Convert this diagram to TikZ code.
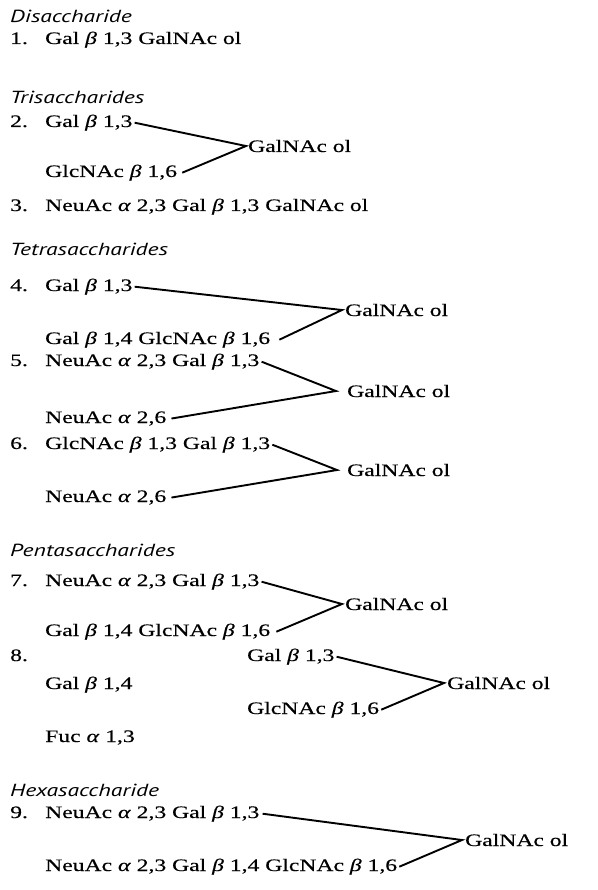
\documentclass[tikz,border=0pt]{standalone}
\usepackage{fontspec}
\setmainfont{Liberation Serif}[FakeStretch=1.35,FakeBold=0.4]
\newfontfamily\hdfont{PT Sans}[FakeStretch=1.35]
\usepackage{tikz}
\newcommand{\bet}{\textit{β}}
\newcommand{\alp}{\textit{α}}
\begin{document}
\begin{tikzpicture}[x=1pt,y=-1pt,
  txt/.style={anchor=base west,inner sep=0pt,font=\fontsize{17.5}{20}\selectfont},
  hd/.style={txt,font=\fontsize{17.5}{20}\selectfont\hdfont\itshape},
  bond/.style={line width=1.9pt,line join=miter}]
\useasboundingbox (0,0) rectangle (597,890);

% Disaccharide
\node[hd] (h1) at (10,23) {Disaccharide};
\node[txt] (n1) at (10,44) {1.};
\node[txt] (a1) at (45,44) {Gal \bet{} 1,3 GalNAc ol};

% Trisaccharides
\node[hd] (h2) at (10,104) {Trisaccharides};
\node[txt] (n2) at (10,127) {2.};
\node[txt] (a2) at (45,127) {Gal \bet{} 1,3};
\node[txt] (g2) at (248,152) {GalNAc ol};
\node[txt] (b2) at (45,177) {GlcNAc \bet{} 1,6};
\draw[bond] ([xshift=2pt]a2.east) -- ([xshift=-2pt]g2.west) -- ([xshift=5pt]b2.east);
\node[txt] (n3) at (10,211) {3.};
\node[txt] (a3) at (45,211) {NeuAc \alp{} 2,3 Gal \bet{} 1,3 GalNAc ol};

% Tetrasaccharides
\node[hd] (h3) at (10,256) {Tetrasaccharides};
\node[txt] (n4) at (10,291) {4.};
\node[txt] (a4) at (45,291) {Gal \bet{} 1,3};
\node[txt] (g4) at (345,316) {GalNAc ol};
\node[txt] (b4) at (45,344) {Gal \bet{} 1,4 GlcNAc \bet{} 1,6};
\draw[bond] ([xshift=2pt]a4.east) -- ([xshift=-3pt]g4.west) -- ([xshift=9pt]b4.east);
\node[txt] (n5) at (10,366) {5.};
\node[txt] (a5) at (45,366) {NeuAc \alp{} 2,3 Gal \bet{} 1,3};
\node[txt] (g5) at (347,397) {GalNAc ol};
\node[txt] (b5) at (45,423) {NeuAc \alp{} 2,6};
\draw[bond] ([xshift=2pt]a5.east) -- ([xshift=-11pt]g5.west) -- ([xshift=5pt]b5.east);
\node[txt] (n6) at (10,449) {6.};
\node[txt] (a6) at (45,449) {GlcNAc \bet{} 1,3 Gal \bet{} 1,3};
\node[txt] (g6) at (347,476) {GalNAc ol};
\node[txt] (b6) at (45,502) {NeuAc \alp{} 2,6};
\draw[bond] ([xshift=2pt]a6.east) -- ([xshift=-10pt]g6.west) -- ([xshift=5pt]b6.east);

% Pentasaccharides
\node[hd] (h4) at (10,556) {Pentasaccharides};
\node[txt] (n7) at (10,586) {7.};
\node[txt] (a7) at (45,586) {NeuAc \alp{} 2,3 Gal \bet{} 1,3};
\node[txt] (g7) at (345,610) {GalNAc ol};
\node[txt] (b7) at (45,636) {Gal \bet{} 1,4 GlcNAc \bet{} 1,6};
\draw[bond] ([xshift=2pt]a7.east) -- ([xshift=-3pt]g7.west) -- ([xshift=6pt]b7.east);
\node[txt] (n8) at (10,661) {8.};
\node[txt] (a8) at (247,661) {Gal \bet{} 1,3};
\node[txt] (g8) at (447,689) {GalNAc ol};
\node[txt] (b8) at (247,714) {GlcNAc \bet{} 1,6};
\node[txt] (c8) at (45,689) {Gal \bet{} 1,4};
\node[txt] (d8) at (45,742) {Fuc \alp{} 1,3};
\draw[bond] ([xshift=2pt]a8.east) -- ([xshift=-3pt]g8.west) -- ([xshift=2pt]b8.east);

% Hexasaccharide
\node[hd] (h5) at (10,796) {Hexasaccharide};
\node[txt] (n9) at (10,818) {9.};
\node[txt] (a9) at (45,818) {NeuAc \alp{} 2,3 Gal \bet{} 1,3};
\node[txt] (g9) at (465,846) {GalNAc ol};
\node[txt] (b9) at (45,871) {NeuAc \alp{} 2,3 Gal \bet{} 1,4 GlcNAc \bet{} 1,6};
\draw[bond] ([xshift=3pt]a9.east) -- ([xshift=-3pt]g9.west) -- ([xshift=2pt]b9.east);
\end{tikzpicture}
\end{document}
